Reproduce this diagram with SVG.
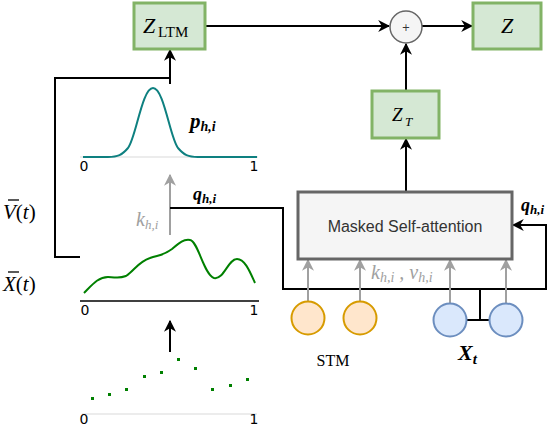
<svg xmlns="http://www.w3.org/2000/svg" width="550" height="428" viewBox="0 0 550 428">
<defs>
<marker id="ab" viewBox="0 0 10 10" refX="9" refY="5" markerWidth="6" markerHeight="6" markerUnits="strokeWidth" orient="auto"><path d="M0,0 L10,5 L0,10 L3,5 z" fill="#000"/></marker>
<marker id="ag" viewBox="0 0 10 10" refX="9" refY="5" markerWidth="6" markerHeight="6" markerUnits="strokeWidth" orient="auto"><path d="M0,0 L10,5 L0,10 L3,5 z" fill="#a0a0a0"/></marker>
<style>
.box{fill:#d5e8d4;stroke:#82b366;stroke-width:3}
.k{stroke:#000;stroke-width:2;fill:none}
.g{stroke:#a0a0a0;stroke-width:2;fill:none}
.m{font-family:"Liberation Serif",serif;font-style:italic}
.s{font-family:"Liberation Serif",serif}
.ax{stroke:#e6e6e6;stroke-width:1.5}
.tk{font-family:"DejaVu Sans",sans-serif;font-size:14px;fill:#000}
.orange{fill:#ffe6cc;stroke:#d79b00;stroke-width:2}
.blue{fill:#dae8fc;stroke:#6c8ebf;stroke-width:2}
</style>
</defs>

<g id="connectors">
<line class="k" x1="206" y1="26" x2="389" y2="26" marker-end="url(#ab)"/>
<line class="k" x1="422" y1="26" x2="472" y2="26" marker-end="url(#ab)"/>
<line class="k" x1="406" y1="91" x2="406" y2="44" marker-end="url(#ab)"/>
<line class="k" x1="406" y1="191" x2="406" y2="139" marker-end="url(#ab)"/>
<polyline class="k" points="80,257 55,257 55,78 170,78"/>
<line class="k" x1="170" y1="84" x2="170" y2="50" marker-end="url(#ab)"/>
<line class="k" x1="170" y1="352" x2="170" y2="321" marker-end="url(#ab)"/>
<line class="g" x1="170" y1="235" x2="170" y2="175" marker-end="url(#ag)"/>
<polyline class="k" points="170,208 283,208 283,289 546,289 546,225 513,225" marker-end="url(#ab)"/>
<line class="k" x1="480" y1="289" x2="480" y2="320"/>
<line class="k" x1="467" y1="320" x2="490" y2="320"/>
<line class="g" x1="308" y1="301" x2="308" y2="260" marker-end="url(#ag)"/>
<line class="g" x1="360" y1="301" x2="360" y2="260" marker-end="url(#ag)"/>
<line class="g" x1="450" y1="303" x2="450" y2="260" marker-end="url(#ag)"/>
<line class="g" x1="506" y1="303" x2="506" y2="260" marker-end="url(#ag)"/>
</g>

<g id="zltm">
<rect class="box" x="134" y="3" width="71" height="46"/>
<text x="143" y="33" class="m" font-size="22">Z</text>
<text x="158" y="37" class="s" font-size="15">LTM</text>
</g>

<g id="plus">
<circle cx="406" cy="27" r="16" fill="#f5f5f5" stroke="#666" stroke-width="1.5"/>
<text x="406" y="31" text-anchor="middle" font-family="DejaVu Sans,sans-serif" font-size="10" fill="#333">+</text>
</g>

<g id="z">
<rect class="box" x="473" y="3" width="68" height="46"/>
<text x="507" y="33" class="m" font-size="22" text-anchor="middle">Z</text>
</g>

<g id="zt">
<rect class="box" x="372" y="91" width="67" height="47"/>
<text x="392" y="121" class="m" font-size="19">Z</text>
<text x="405" y="126" class="m" font-size="13">T</text>
</g>

<g id="msa">
<rect x="298" y="192" width="214" height="67" fill="#f5f5f5" stroke="#666" stroke-width="3"/>
<text x="405" y="232" text-anchor="middle" font-family="Liberation Sans,Arial,sans-serif" font-size="16" fill="#333">Masked Self-attention</text>
</g>

<g id="stm">
<circle class="orange" cx="308" cy="318" r="16.5"/>
<circle class="orange" cx="360" cy="318" r="16.5"/>
<text x="333" y="366" text-anchor="middle" class="s" font-size="16">STM</text>
</g>

<g id="xt">
<circle class="blue" cx="450" cy="320" r="16.5"/>
<circle class="blue" cx="506" cy="320" r="16.5"/>
<text x="458" y="360" class="m" font-size="22" font-weight="bold">X<tspan font-size="15" dy="4">t</tspan></text>
</g>

<g id="labels">
<text x="521" y="211" class="m" font-size="18" font-weight="bold">q<tspan font-size="13" dy="3">h,i</tspan></text>
<text x="371" y="279" class="m" font-size="20" fill="#a0a0a0">k<tspan font-size="14" dy="3">h,i</tspan><tspan dy="-3"> , v</tspan><tspan font-size="14" dy="3">h,i</tspan></text>
<text x="193" y="200" class="m" font-size="18" font-weight="bold">q<tspan font-size="13" dy="3">h,i</tspan></text>
<text x="136" y="226" class="m" font-size="20" fill="#a0a0a0">k<tspan font-size="13" dy="3">h,i</tspan></text>
<text x="190" y="128" class="m" font-size="21" font-weight="bold">p<tspan font-size="14" dy="3">h,i</tspan></text>
<text x="3" y="219" class="m" font-size="21">V<tspan font-style="normal">(</tspan>t<tspan font-style="normal">)</tspan></text>
<line x1="8" y1="200" x2="19" y2="200" stroke="#000" stroke-width="1.3"/>
<text x="3" y="291" class="m" font-size="21">X<tspan font-style="normal">(</tspan>t<tspan font-style="normal">)</tspan></text>
<line x1="8" y1="272" x2="19" y2="272" stroke="#000" stroke-width="1.3"/>
</g>

<g id="plot-p">
<line class="ax" x1="80" y1="157" x2="258" y2="157"/>
<path d="M83,157 L108,157 C118,157 122,155 128,148 C136,138 142,88 153,88 C164,88 170,138 178,148 C184,155 188,157 198,157 L257,157" fill="none" stroke="#0e8080" stroke-width="2"/>
<text x="84" y="171" class="tk" text-anchor="middle">0</text>
<text x="254" y="171" class="tk" text-anchor="middle">1</text>
</g>

<g id="plot-x">
<line x1="80" y1="301" x2="259" y2="301" stroke="#000" stroke-width="1.5"/>
<path d="M84,293 C92,285 98,277 108,277 C116,277 118,279 126,276 C134,271 138,262 150,258 C158,255 163,256 172,249 C179,243 183,239 190,240 C198,241 204,275 214,278 C224,280 228,259 237,259 C245,259 250,272 255,283" fill="none" stroke="#008000" stroke-width="2"/>
<text x="85" y="315" class="tk" text-anchor="middle">0</text>
<text x="254" y="315" class="tk" text-anchor="middle">1</text>
</g>

<g id="plot-dots" fill="#008000">
<line class="ax" x1="82" y1="414" x2="257" y2="414"/>
<rect x="91" y="397" width="3" height="3"/>
<rect x="108" y="393" width="3" height="3"/>
<rect x="125" y="388" width="3" height="3"/>
<rect x="143" y="375" width="3" height="3"/>
<rect x="160" y="371" width="3" height="3"/>
<rect x="177" y="358" width="3" height="3"/>
<rect x="194" y="367" width="3" height="3"/>
<rect x="211" y="388" width="3" height="3"/>
<rect x="229" y="384" width="3" height="3"/>
<rect x="246" y="378" width="3" height="3"/>
<text x="84" y="424" class="tk" text-anchor="middle" font-size="11">0</text>
<text x="254" y="424" class="tk" text-anchor="middle" font-size="11">1</text>
</g>
</svg>
